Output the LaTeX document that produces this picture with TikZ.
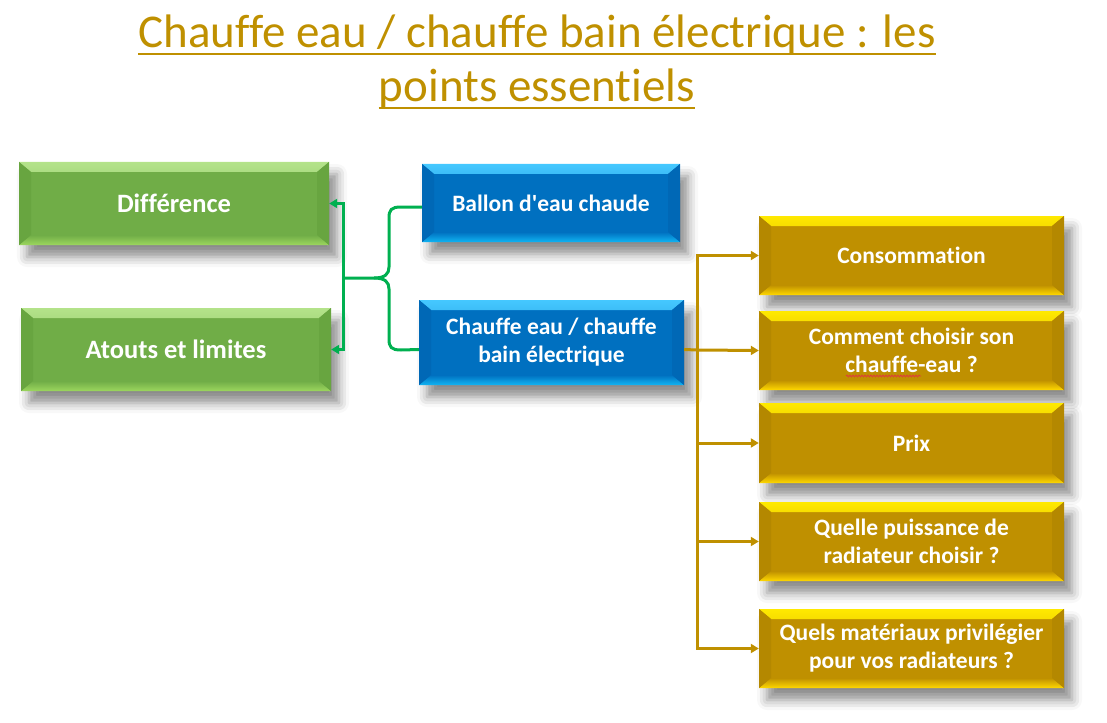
\documentclass[tikz,border=0pt]{standalone}
\usepackage{fontspec}
\setmainfont{Carlito}[Ligatures={TeXOff,CommonOff}]
\usetikzlibrary{arrows.meta,shadows.blur,decorations.pathmorphing}
\definecolor{gmain}{HTML}{70AD47}
\definecolor{gtop}{HTML}{B4E38A}
\definecolor{gbot}{HTML}{9CD65E}
\definecolor{gside}{HTML}{68A540}
\definecolor{bmain}{HTML}{0070C0}
\definecolor{btop}{HTML}{45C8FF}
\definecolor{bbot}{HTML}{10B4F2}
\definecolor{bside}{HTML}{0068B6}
\definecolor{omain}{HTML}{BF9000}
\definecolor{otop}{HTML}{FFE900}
\definecolor{obot}{HTML}{FFD800}
\definecolor{oside}{HTML}{B48800}
\definecolor{gline}{HTML}{00B050}
\definecolor{oline}{HTML}{BF9000}
\definecolor{titlec}{HTML}{BF9000}
\definecolor{spell}{HTML}{E03C3C}
\tikzset{
  bevelbox/.style n args={4}{
    fill=#1, inner sep=0pt, align=center, text=white,
    font=\bfseries\fontsize{23.5}{28}\selectfont,
    blur shadow={shadow xshift=8pt, shadow yshift=-12pt, shadow blur radius=10pt, shadow opacity=45},
    path picture={
      \shade[top color=#2, bottom color=#1]
        (path picture bounding box.north west) -- (path picture bounding box.north east)
        -- ([shift={(-12pt,-10pt)}]path picture bounding box.north east)
        -- ([shift={(12pt,-10pt)}]path picture bounding box.north west) -- cycle;
      \shade[top color=#1, bottom color=#3]
        (path picture bounding box.south west) -- (path picture bounding box.south east)
        -- ([shift={(-12pt,10pt)}]path picture bounding box.south east)
        -- ([shift={(12pt,10pt)}]path picture bounding box.south west) -- cycle;
      \fill[#4]
        (path picture bounding box.north west) -- ([shift={(12pt,-10pt)}]path picture bounding box.north west)
        -- ([shift={(12pt,10pt)}]path picture bounding box.south west) -- (path picture bounding box.south west) -- cycle;
      \fill[#4]
        (path picture bounding box.north east) -- ([shift={(-12pt,-10pt)}]path picture bounding box.north east)
        -- ([shift={(-12pt,10pt)}]path picture bounding box.south east) -- (path picture bounding box.south east) -- cycle;
    }},
  greenbox/.style={bevelbox={gmain}{gtop}{gbot}{gside}, minimum width=310pt, minimum height=83pt,
    font=\bfseries\fontsize{26.5}{31}\selectfont},
  bluebox/.style={bevelbox={bmain}{btop}{bbot}{bside}},
  goldbox/.style={bevelbox={omain}{otop}{obot}{oside}, minimum width=305pt, minimum height=79pt},
  gconn/.style={draw=gline, line width=3pt},
  garrow/.style={gconn, -{Triangle[length=8pt,width=9pt]}},
  oconn/.style={draw=oline, line width=3pt},
  oarrow/.style={oconn, -{Triangle[length=8pt,width=9pt]}},
  titletext/.style={text=titlec, inner sep=0pt, anchor=base, font=\fontsize{47}{55}\selectfont},
  uline/.style={draw=titlec, line width=2.5pt},
  squiggle/.style={draw=spell, line width=0.8pt, decorate, decoration={snake, amplitude=0.9pt, segment length=3pt}}
}
\begin{document}
\begin{tikzpicture}[x=1pt,y=-1pt]
\useasboundingbox (0,0) rectangle (1107,722);

% title
\node[titletext] (t1) at (537,48) {Chauffe eau / chauffe bain électrique : les};
\node[titletext] (t2) at (537,102) {points essentiels};
\draw[uline] ([yshift=-6pt]t1.base west) -- ([yshift=-6pt]t1.base east);
\draw[uline] ([yshift=-6pt]t2.base west) -- ([yshift=-6pt]t2.base east);

% green boxes
\node[greenbox] (d1) at (174,203.5) {Différence};
\node[greenbox] (d2) at (176,349.5) {Atouts et limites};

% blue boxes
\node[bluebox, minimum width=258pt, minimum height=78pt] (b1) at (551,203) {Ballon d\symbol{39}eau chaude};
\node[bluebox, minimum width=265pt, minimum height=85pt] (b2) at (551.5,342.5) {Chauffe eau / chauffe\\bain électrique};

% gold boxes
\node[goldbox] (g1) at (911.5,255.5) {Consommation};
\node[goldbox] (g2) at (911.5,350.5) {Comment choisir son\\chauffe-eau ?};
\node[goldbox, minimum height=80pt] (g3) at (911.5,443) {Prix};
\node[goldbox] (g4) at (911.5,541.5) {Quelle puissance de\\radiateur choisir ?};
\node[goldbox] (g5) at (911.5,648.5) {Quels matériaux privilégier\\pour vos radiateurs ?};

% spell-check mark under "chauffe"
\coordinate (sq1) at (846,376);
\coordinate (sq2) at (921,376);
\draw[squiggle] (sq1) -- (sq2);

% green brace
\coordinate (tip) at (343,278);
\coordinate (b1in) at ([yshift=-4pt]b1.west);
\coordinate (b2in) at ([yshift=-7pt]b2.west);
\draw[gconn] (b1in) -- (401,207) .. controls (391,207) and (389,210) .. (389,218)
  -- (389,267) .. controls (389,274) and (385,278) .. (374,278) -- (tip);
\draw[gconn] (374,278) .. controls (385,278) and (389,282) .. (389,289)
  -- (389,339) .. controls (389,347) and (391,350) .. (401,350) -- (b2in);
\draw[garrow] (tip) |- (d1.east);
\draw[garrow] (tip) |- (d2.east);

% gold tree
\coordinate (b2out) at ([yshift=-7pt]b2.east);
\coordinate (fork) at (697,350);
\draw[oconn] (b2out) -- (fork);
\draw[oarrow] (fork) |- (g1.west);
\draw[oarrow] (fork) -- (g2.west);
\draw[oarrow] (fork) |- (g3.west);
\draw[oarrow] (fork) |- (g4.west);
\draw[oarrow] (fork) |- (g5.west);
\end{tikzpicture}
\end{document}
